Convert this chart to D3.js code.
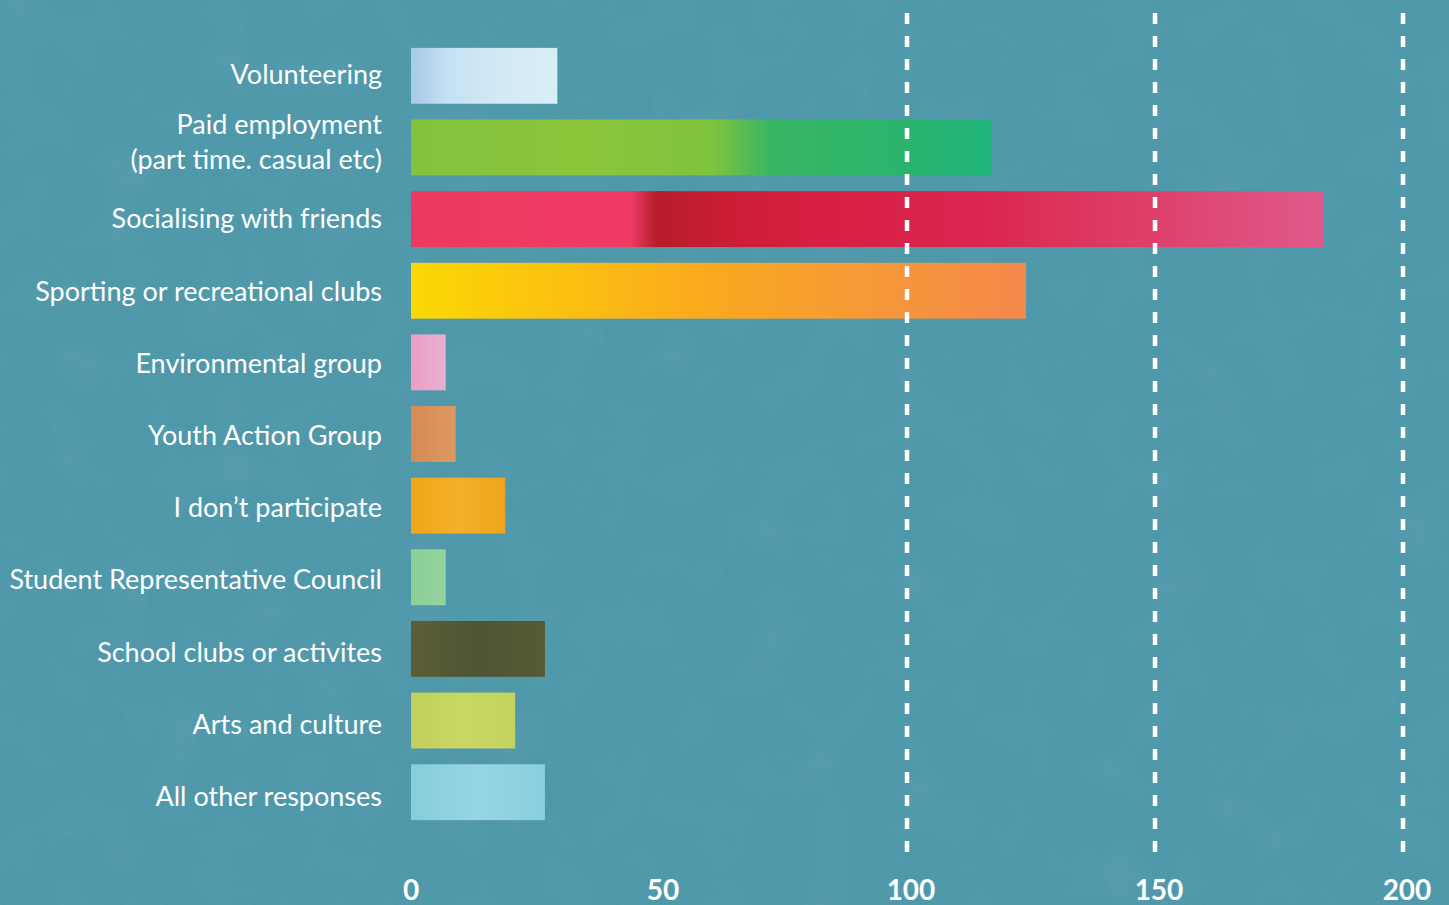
<!DOCTYPE html>
<html>
<head>
<meta charset="utf-8">
<script src="https://cdn.jsdelivr.net/npm/d3@7"></script>
<style>
  html, body { margin: 0; padding: 0; background: #4e97a9; }
  svg { display: block; }
  text { font-family: Lato, "Open Sans", sans-serif; fill: #ffffff; }
</style>
</head>
<body>
<svg id="chart" width="1449" height="905"></svg>
<script>
// ---- data ----
const categories = [
  "Volunteering",
  "Paid employment\n(part time. casual etc)",
  "Socialising with friends",
  "Sporting or recreational clubs",
  "Environmental group",
  "Youth Action Group",
  "I don\u2019t participate",
  "Student Representative Council",
  "School clubs or activites",
  "Arts and culture",
  "All other responses"
];
const values = [29.5, 117, 184, 124, 7, 9, 19, 7, 27, 21, 27];
const tickValues = [0, 50, 100, 150, 200];
const gridValues = [100, 150, 200];

// ---- styles (separate from data): [offset, colour] ----
const barGradients = [
  [[0, "#a6c9e8"], [0.25, "#c4e0f3"], [0.6, "#d2eaf5"], [1, "#d9eff5"]],
  [[0, "#84c23e"], [0.3, "#8bc63a"], [0.52, "#80c33e"], [0.62, "#38b664"], [0.85, "#2ab46c"], [1, "#1fb47c"]],
  [[0, "#ec3a5e"], [0.24, "#ef3b66"], [0.27, "#b61d2a"], [0.33, "#c81d34"], [0.45, "#d81f42"], [0.62, "#db2550"], [0.8, "#dd3f68"], [1, "#e0598c"]],
  [[0, "#fbd805"], [0.25, "#fcc010"], [0.5, "#f9a81f"], [0.72, "#f69a35"], [1, "#f5884c"]],
  [[0, "#ec9ec4"], [1, "#e9b0cf"]],
  [[0, "#d48a55"], [1, "#dd9a60"]],
  [[0, "#f0a616"], [0.5, "#f3b02a"], [1, "#efa51a"]],
  [[0, "#8bcf97"], [1, "#95d39e"]],
  [[0, "#5b5e38"], [0.5, "#4f5433"], [1, "#565a36"]],
  [[0, "#c1d05b"], [0.5, "#c9d764"], [1, "#c4d35e"]],
  [[0, "#88ccdc"], [0.5, "#96d6e4"], [1, "#8acedf"]]
];

const svg = d3.select("#chart");
const W = 1449, H = 905;
const defs = svg.append("defs");

// paper texture filters
const f = defs.append("filter").attr("id", "paper").attr("x", 0).attr("y", 0).attr("width", "100%").attr("height", "100%");
f.append("feTurbulence").attr("type", "fractalNoise").attr("baseFrequency", 0.9).attr("numOctaves", 3).attr("seed", 4).attr("result", "noise");
f.append("feColorMatrix").attr("in", "noise").attr("type", "matrix")
  .attr("values", "0 0 0 0 0.12  0 0 0 0 0.38  0 0 0 0 0.45  0 0 0 -1.1 0.62");
const f2 = defs.append("filter").attr("id", "blotch").attr("x", 0).attr("y", 0).attr("width", "100%").attr("height", "100%");
f2.append("feTurbulence").attr("type", "fractalNoise").attr("baseFrequency", 0.02).attr("numOctaves", 3).attr("seed", 9).attr("result", "noise");
f2.append("feColorMatrix").attr("in", "noise").attr("type", "matrix")
  .attr("values", "0 0 0 0 0.20  0 0 0 0 0.45  0 0 0 0 0.52  0 0 0 -1.4 0.75");

svg.append("rect").attr("width", W).attr("height", H).attr("fill", "#4f98aa");
svg.append("rect").attr("width", W).attr("height", H).attr("filter", "url(#blotch)").attr("opacity", 0.22);
svg.append("rect").attr("width", W).attr("height", H).attr("filter", "url(#paper)").attr("opacity", 0.4);

// scales
const x = d3.scaleLinear().domain([0, 200]).range([411, 1403]);
const y = d3.scaleBand().domain(categories).range([40, 828]).paddingInner(0.22).paddingOuter(0.11);
const yLabel = d3.scalePoint().domain(categories).range([74, 796]);

// gradients
barGradients.forEach((stops, i) => {
  const g = defs.append("linearGradient").attr("id", "g" + i).attr("x1", 0).attr("x2", 1).attr("y1", 0).attr("y2", 0);
  stops.forEach(([o, c]) => g.append("stop").attr("offset", o).attr("stop-color", c));
});

// bars
svg.append("g").selectAll("rect").data(categories).join("rect")
  .attr("x", x(0))
  .attr("y", d => y(d))
  .attr("width", (d, i) => x(values[i]) - x(0))
  .attr("height", y.bandwidth())
  .attr("fill", (d, i) => `url(#g${i})`);

// grid lines (dashed)
svg.append("g").selectAll("line").data(gridValues).join("line")
  .attr("x1", d => x(d)).attr("x2", d => x(d))
  .attr("y1", 13).attr("y2", 857)
  .attr("stroke", "#ffffff").attr("stroke-width", 4.5)
  .attr("stroke-dasharray", "11 12");

// category labels
const fs = 27;
const lab = svg.append("g").selectAll("text").data(categories).join("text")
  .attr("text-anchor", "end")
  .attr("font-size", fs)
  .attr("x", 382)
  .attr("y", d => yLabel(d));
lab.each(function(d) {
  const lines = d.split("\n");
  const t = d3.select(this);
  const lh = 35;
  lines.forEach((l, k) => {
    t.append("tspan").attr("x", 382)
      .attr("dy", k === 0 ? (fs * 0.37 - (lines.length - 1) * lh / 2 - (lines.length > 1 ? 5 : 0)) : lh)
      .text(l);
  });
});

// x axis tick labels
svg.append("g").selectAll("text").data(tickValues).join("text")
  .attr("x", d => x(d) + (d === 0 ? 0 : 4))
  .attr("y", 900)
  .attr("text-anchor", "middle")
  .attr("font-size", 28)
  .attr("font-weight", 700)
  .text(d => d);
</script>
</body>
</html>
